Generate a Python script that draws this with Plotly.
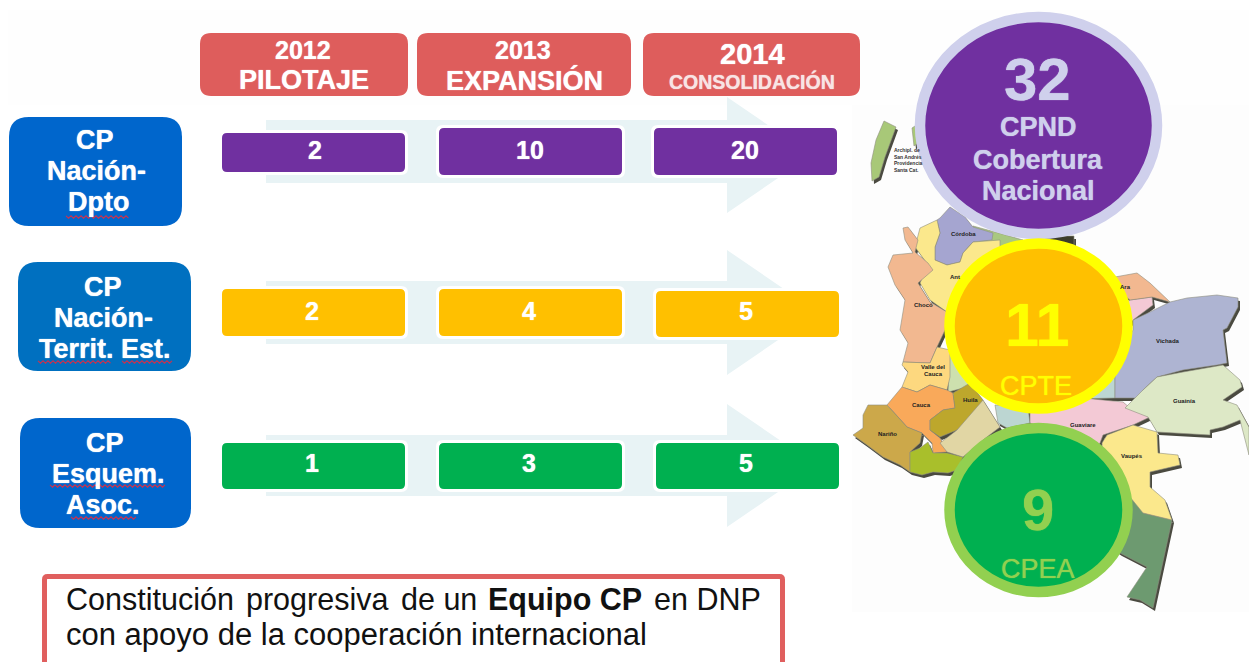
import plotly.graph_objects as go

# ---------- content ----------
years = ["2012", "2013", "2014"]
phases = ["PILOTAJE", "EXPANSIÓN", "CONSOLIDACIÓN"]
row_labels = [["CP", "Nación-", "Dpto"], ["CP", "Nación-", "Territ. Est."], ["CP", "Esquem.", "Asoc."]]
cpnd_values = [2, 10, 20]
cpte_values = [2, 4, 5]
cpea_values = [1, 3, 5]
totals = [32, 11, 9]
total_labels = [["CPND", "Cobertura", "Nacional"], ["CPTE"], ["CPEA"]]
note_words = ["Constitución", "progresiva", "de un", "<b>Equipo CP</b>", "en DNP"]
note_line2 = "con apoyo de la cooperación internacional"

FONT = "Liberation Sans"
RED, PURPLE, AMBER, GREEN = "#de5d5c", "#7030a0", "#ffc000", "#00b050"
LAV, YEL, LIME = "#cfd0ec", "#ffff00", "#92d050"

shapes, notes = [], []


def rrect(x0, y0, x1, y1, r, fill, line=None, lw=0):
    p = (f"M{x0+r},{y0} L{x1-r},{y0} Q{x1},{y0} {x1},{y0+r} L{x1},{y1-r} Q{x1},{y1} {x1-r},{y1} "
         f"L{x0+r},{y1} Q{x0},{y1} {x0},{y1-r} L{x0},{y0+r} Q{x0},{y0} {x0+r},{y0} Z")
    shapes.append(dict(type="path", path=p, fillcolor=fill, line=dict(color=line or fill, width=lw), xref="x", yref="y"))


def poly(pts, fill, line="rgba(0,0,0,0)", lw=0, dx=0, dy=0):
    p = "M" + " L".join(f"{x+dx},{y+dy}" for x, y in pts) + " Z"
    shapes.append(dict(type="path", path=p, fillcolor=fill, line=dict(color=line, width=lw), xref="x", yref="y"))


def text(x, y, s, size, color="#ffffff", bold=True, anchor="center", glow=True):
    notes.append(dict(x=x, y=y, xref="x", yref="y", text=s, showarrow=False, xanchor=anchor, yanchor="middle",
                      font=dict(family=FONT, size=size, color=color, weight=700 if bold else 400,
                                shadow=f"0 0 1px {color}" if glow else "none")))


def squiggle(x0, x1, y):
    pts, x, up = [], x0, True
    while x <= x1:
        pts.append(f"{x},{y - 1.2 if up else y + 1.2}")
        x += 2.5
        up = not up
    shapes.append(dict(type="path", path="M" + " L".join(pts), line=dict(color="#c8324f", width=1.1), xref="x", yref="y"))


# ---------- faint panels ----------
shapes.append(dict(type="rect", x0=8, y0=10, x1=1249, y1=105, fillcolor="#fefefe", line=dict(width=0)))
shapes.append(dict(type="rect", x0=852, y0=105, x1=1249, y1=612, fillcolor="#fdfdfd", line=dict(width=0)))

# ---------- map ----------
regions = [
    ([(884,121),(896,127),(892,138),(885,157),(879,177),(872,181),(871,163),(876,140)], "#a8c878"),
    ([(912,128),(918,124),(922,140),(914,146)], "#a8c878"),
    ([(973,226),(995,232),(1023,240),(1000,250),(975,244)], "#a9c880"),
    ([(1040,236),(1074,236),(1074,246),(1040,246)], "#3c3c2c"),
    ([(940,218),(950,207),(965,217),(973,227),(993,233),(992,240),(973,242),(963,253),(960,262),(947,265),(935,260),(935,247),(940,233),(937,220)], "#a5a5d0"),
    ([(915,247),(920,228),(937,220),(940,233),(935,247),(935,260),(947,265),(960,262),(963,253),(973,242),(1000,240),(1000,300),(947,312),(930,300),(920,283),(928,265)], "#fbe88c"),
    ([(903,228),(908,227),(918,240),(915,252),(928,263),(933,270),(918,283),(930,302),(947,312),(945,330),(937,347),(930,363),(903,362),(908,343),(900,330),(905,300),(895,285),(888,267),(893,255),(913,253),(905,240)], "#f2b890"),
    ([(950,340),(1000,340),(1000,400),(975,385),(948,392)], "#cde0ae"),
    ([(903,362),(930,363),(937,347),(950,350),(950,377),(947,390),(930,385),(917,392),(902,387),(908,372),(902,365)], "#fdd87f"),
    ([(887,405),(902,387),(917,392),(930,385),(947,390),(953,393),(955,408),(943,410),(930,420),(930,430),(940,438),(947,452),(933,453),(932,443),(922,433),(907,427),(898,417)], "#f9a95a"),
    ([(953,393),(970,383),(983,400),(977,410),(957,430),(940,437),(930,430),(930,420),(943,410),(955,408)], "#bda72c"),
    ([(863,415),(868,405),(887,405),(898,417),(907,427),(922,433),(920,443),(910,452),(910,472),(900,465),(883,457),(867,445),(853,435),(863,428)], "#cca84a"),
    ([(910,452),(920,448),(928,442),(933,453),(947,453),(963,457),(957,470),(948,473),(933,472),(922,475),(910,472)], "#a9bf2b"),
    ([(940,443),(957,430),(983,400),(1000,427),(983,440),(963,457),(947,452)], "#e1d6a4"),
    ([(1115,360),(1115,398),(1030,400),(1030,360)], "#bcd6d2"),
    ([(995,405),(1028,408),(1030,423),(1007,428),(998,423)], "#bcd6d2"),
    ([(1030,413),(1053,400),(1083,398),(1123,402),(1130,408),(1150,417),(1133,425),(1103,435),(1100,443),(1080,470),(1050,430),(1030,423)], "#f3c9d5"),
    ([(1133,320),(1150,312),(1170,302),(1187,298),(1217,295),(1238,298),(1238,307),(1227,328),(1223,330),(1227,363),(1217,365),(1183,370),(1157,377),(1143,390),(1140,398),(1115,398),(1115,363),(1133,330)], "#aeb4d2"),
    ([(1130,300),(1152,297),(1153,305),(1133,320),(1115,340),(1100,320)], "#f3c9d5"),
    ([(1115,277),(1137,273),(1150,283),(1170,302),(1152,297),(1130,300),(1117,290)], "#f2b890"),
    ([(1125,408),(1143,390),(1157,377),(1183,372),(1223,365),(1240,380),(1242,387),(1223,400),(1237,405),(1249,427),(1249,455),(1240,420),(1223,427),(1210,430),(1210,435),(1157,432),(1148,417)], "#dde8c6"),
    ([(1130,495),(1143,503),(1143,513),(1172,520),(1153,608),(1140,600),(1127,597),(1147,567),(1120,553),(1100,540),(1127,517)], "#6d9a70"),
    ([(1102,443),(1107,435),(1133,425),(1157,432),(1158,453),(1178,455),(1180,465),(1150,472),(1150,487),(1165,500),(1172,520),(1143,513),(1130,497),(1103,463)], "#fbe88c"),
]
for pts, _ in regions:
    poly(pts, "#4a4a40", dx=2, dy=3)
for pts, col in regions:
    poly(pts, col, line="#8f8f80", lw=0.6)

map_labels = [
    (963, 234, "Córdoba"), (923, 305, "Chocó"), (933, 367, "Valle del"), (933, 374, "Cauca"), (921, 405, "Cauca"),
    (970, 400, "Huila"), (887, 434, "Nariño"), (1168, 341, "Vichada"), (1184, 401, "Guainía"),
    (1083, 425, "Guaviare"), (1132, 456, "Vaupés"), (955, 277, "Ant"), (1125, 287, "Ara"),
]
for x, y, s in map_labels:
    text(x, y, s, 6, "#222222", glow=False)
for i, s in enumerate(["Archipl. de", "San Andrés", "Providencia", "Santa Cat."]):
    text(892, 150 + i * 6.5, s, 5, "#333333", anchor="left", glow=False)

# ---------- arrows ----------
arrow_geo = [(120, 183, 97, 213), (281, 344, 250, 375), (435, 496, 404, 527)]
for top, bot, head_top, head_bot in arrow_geo:
    mid = (head_top + head_bot) / 2
    tip = 727 + (head_bot - head_top) / 2 * 1.46
    poly([(266, top), (727, top), (727, head_top), (tip, mid), (727, head_bot), (727, bot), (266, bot)], "#e8f3f5")

# ---------- year headers ----------
header_x = [(200, 408), (417, 631), (643, 860)]
for (a, b) in header_x:
    rrect(a, 33, b, 96, 11, RED)
text(303, 50, years[0], 25); text(304, 80, phases[0], 27)
text(523, 50, years[1], 25); text(524, 80, phases[1], 27)
text(752, 54, years[2], 29); text(752, 81, phases[2], 19.5, "#f8e4e4")

# ---------- row labels ----------
row_boxes = [(9, 117, 182, 226, "#0066cc"), (18, 262, 191, 371, "#0070c0"), (20, 418, 191, 528, "#0066cc")]
label_x = [[95, 96, 98], [103, 103, 105], [105, 108, 103]]
label_y = [140, 287, 443]
for (a, t, b, d, c), lines, xs, y0 in zip(row_boxes, row_labels, label_x, label_y):
    rrect(a, t, b, d, 20, c)
    for j, (s, x) in enumerate(zip(lines, xs)):
        text(x, y0 + j * 31, s, 27)
squiggle(66, 130, 217)
squiggle(38, 111, 362); squiggle(122, 173, 362)
squiggle(50, 167, 486); squiggle(71, 136, 518)

# ---------- value bars ----------
rows = [
    (cpnd_values, PURPLE, [(222, 133, 405, 172), (439, 128, 622, 175), (654, 128, 837, 175)], [315, 530, 745], 150),
    (cpte_values, AMBER, [(222, 289, 405, 336), (439, 289, 622, 336), (656, 291, 839, 337)], [312, 529, 746], 311),
    (cpea_values, GREEN, [(222, 443, 405, 489), (439, 443, 622, 489), (656, 443, 839, 489)], [312, 529, 746], 463),
]
for vals, col, boxes, xs, ty in rows:
    for v, (a, t, b, d), x in zip(vals, boxes, xs):
        rrect(a - 3, t - 3, b + 3, d + 3, 7, "#ffffff")
        rrect(a, t, b, d, 5, col)
        text(x, ty, str(v), 25)

# ---------- bottom note ----------
rrect(44.5, 576.5, 782.5, 690, 3, "#ffffff", line="#e05f5e", lw=5)
for x, w in zip([64, 244, 399, 486, 652], note_words):
    text(x, 599, w, 30.5, "#111111", bold=False, anchor="left", glow=False)
text(64, 634, note_line2, 31, "#111111", bold=False, anchor="left", glow=False)

# ---------- total circles ----------
circles = [(920, 17, 1157, 234, PURPLE, LAV), (949.5, 243.5, 1127.5, 408.5, AMBER, YEL), (949.5, 428, 1127.5, 592, GREEN, LIME)]
for a, t, b, d, fill, ring in circles:
    shapes.append(dict(type="circle", x0=a, y0=t, x1=b, y1=d, fillcolor=fill, line=dict(color=ring, width=10.5)))
text(1037, 79, str(totals[0]), 60, LAV)
for y, s in zip([127, 160, 191], total_labels[0]):
    text(1038, y, s, 27, LAV)
text(1037, 325, str(totals[1]), 61, YEL)
text(1036, 386, total_labels[1][0], 27, YEL, bold=False)
text(1038, 509, str(totals[2]), 58, LIME)
text(1038, 569, total_labels[2][0], 27, LIME, bold=False)

fig = go.Figure()
fig.update_layout(
    width=1249, height=662, margin=dict(l=0, r=0, t=0, b=0), autosize=False,
    paper_bgcolor="#ffffff", plot_bgcolor="#ffffff", showlegend=False,
    xaxis=dict(range=[0, 1249], visible=False, fixedrange=True),
    yaxis=dict(range=[662, 0], visible=False, fixedrange=True),
    shapes=shapes, annotations=notes,
)
fig.write_html("out.html", config={"displayModeBar": False},
               post_script="document.body.style.margin='0';document.body.style.overflow='hidden';")
